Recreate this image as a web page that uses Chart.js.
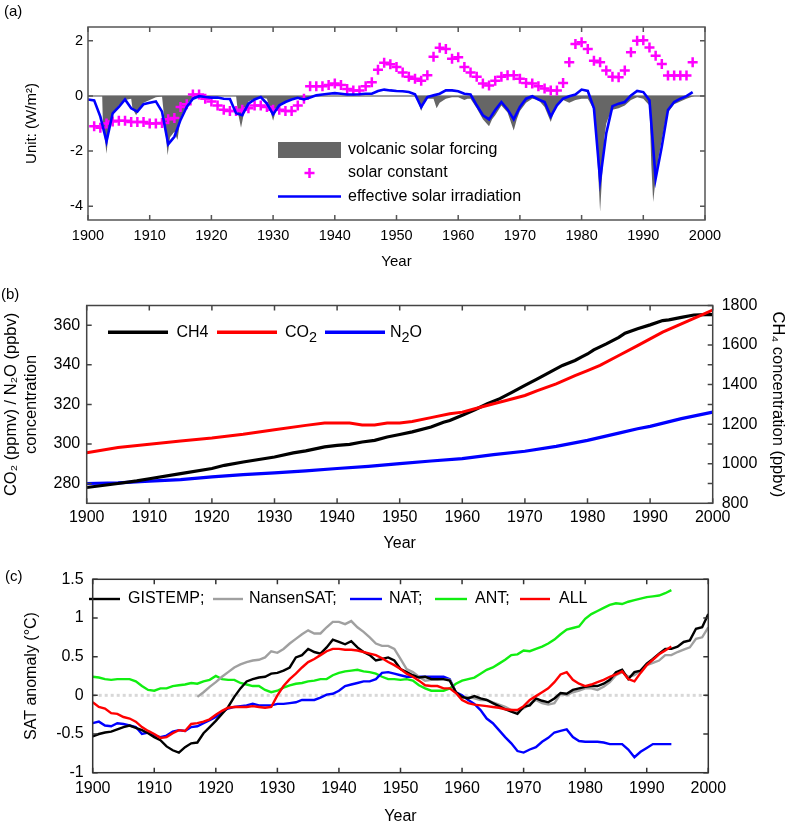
<!DOCTYPE html>
<html>
<head>
<meta charset="utf-8">
<title>Solar forcing, greenhouse gases and SAT anomaly</title>
<script src="https://cdn.jsdelivr.net/npm/chart.js@4.4.1/dist/chart.umd.min.js"></script>
<style>
  html, body { margin: 0; padding: 0; background: #fff; overflow: hidden; }
  #page { position: relative; width: 792px; height: 822px; }
  .panel { position: absolute; left: 0; width: 792px; }
  .tag { position: absolute; font: 15px 'Liberation Sans', Arial, sans-serif; line-height: 1; color: #000; }
</style>
</head>
<body>
<div id="page">
  <div class="panel" style="top:0;height:275px"><canvas id="chartA" width="792" height="275"></canvas></div>
  <div class="panel" style="top:280px;height:275px"><canvas id="chartB" width="792" height="275"></canvas></div>
  <div class="panel" style="top:560px;height:270px"><canvas id="chartC" width="792" height="270"></canvas></div>
  <div class="tag" style="left:4px;top:3px">(a)</div>
  <div class="tag" style="left:1px;top:286px">(b)</div>
  <div class="tag" style="left:5px;top:568px">(c)</div>
</div>
<script>
const FONT = "'Liberation Sans', Arial, Helvetica, sans-serif";

// ---------- shared axis ticks ----------
const yearTicks = [1900, 1910, 1920, 1930, 1940, 1950, 1960, 1970, 1980, 1990, 2000];
const forcingTicks = [-4, -2, 0, 2];
const gasTicks = [280, 300, 320, 340, 360];
const ch4Ticks = [800, 1000, 1200, 1400, 1600, 1800];
const satTicks = [-1, -0.5, 0, 0.5, 1, 1.5];

// ---------- (a) forcing, W/m2 ----------
const SOLAR_START = 1901;
const solarConstant = [
  -1.1, -1.15, -1.0, -0.93, -0.9, -0.9, -0.95, -0.95, -0.95, -1.0,      // 1901-1910
  -1.0, -0.98, -0.85, -0.8, -0.4, -0.3, 0.05, 0.05, -0.1, -0.2,         // 1911-1920
  -0.35, -0.5, -0.55, -0.55, -0.5, -0.45, -0.35, -0.35, -0.4, -0.5,     // 1921-1930
  -0.5, -0.55, -0.55, -0.35, -0.1, 0.35, 0.35, 0.35, 0.4, 0.45,         // 1931-1940
  0.4, 0.25, 0.2, 0.2, 0.35, 0.5, 0.95, 1.2, 1.15, 1.05,                // 1941-1950
  0.85, 0.7, 0.62, 0.55, 0.75, 1.42, 1.75, 1.7, 1.35, 1.4,              // 1951-1960
  1.05, 0.85, 0.7, 0.45, 0.38, 0.55, 0.7, 0.75, 0.75, 0.62,             // 1961-1970
  0.47, 0.45, 0.35, 0.27, 0.2, 0.2, 0.47, 1.22, 1.88, 1.95,             // 1971-1980
  1.7, 1.28, 1.22, 0.92, 0.7, 0.68, 0.92, 1.58, 2.0, 2.02,              // 1981-1990
  1.76, 1.46, 1.16, 0.74, 0.74, 0.74, 0.74, 1.22                        // 1991-1998
];

const EFFECTIVE_START = 1900;
const effectiveSolar = [
  -0.13, -0.16, -0.75, -1.65, -0.63, -0.4, -0.13, -0.45, -0.57, -0.3,   // 1900-1909
  -0.25, -0.2, -0.57, -1.75, -1.48, -0.87, -0.4, -0.1, -0.01, -0.04,    // 1910-1919
  -0.06, -0.06, -0.1, -0.11, -0.63, -0.7, -0.28, -0.13, -0.04, -0.28,   // 1920-1929
  -0.67, -0.34, -0.22, -0.13, -0.07, -0.13, -0.06, 0.02, 0.05, 0.08,    // 1930-1939
  0.1, 0.08, 0.05, 0.05, 0.06, 0.08, 0.08, 0.18, 0.23, 0.2,             // 1940-1949
  0.18, 0.17, 0.14, 0.06, -0.4, -0.04, 0.02, 0.08, 0.2, 0.2,            // 1950-1959
  0.17, 0.08, 0.05, -0.34, -0.7, -0.85, -0.51, -0.22, -0.49, -0.85,     // 1960-1969
  -0.4, -0.1, -0.01, -0.13, -0.22, -0.75, -0.34, -0.1, -0.01, 0.05,     // 1970-1979
  0.23, 0.18, -0.45, -3.05, -1.35, -0.37, -0.28, -0.22, 0.02, 0.18,     // 1980-1989
  0.14, -0.16, -3.0, -1.83, -0.51, -0.22, -0.1, -0.01, 0.14             // 1990-1998
];

const volcanicYears = [
  1900, 1902.3, 1902.4, 1903, 1903.5, 1904, 1905, 1906, 1907, 1907.2, 1907.8, 1908.5, 1909, 1910, 1911, 1912,
  1912.4, 1912.9, 1913.3, 1914, 1914.5, 1915, 1916, 1917, 1918, 1924, 1924.3, 1924.8, 1925.3, 1926, 1927,
  1928, 1929, 1929.5, 1930, 1930.5, 1931, 1932, 1933, 1934, 1935, 1936, 1937, 1953, 1953.5, 1954, 1954.5,
  1955, 1956, 1956.5, 1957, 1958, 1959, 1960, 1961, 1961.5, 1962, 1963, 1964, 1965, 1965.5, 1966, 1967,
  1968, 1969, 1969.5, 1970, 1971, 1972, 1973, 1974, 1975, 1975.5, 1976, 1977, 1978, 1979, 1980, 1981,
  1982, 1982.5, 1983, 1983.3, 1983.7, 1984, 1984.5, 1985, 1986, 1987, 1988, 1989, 1990, 1991, 1991.3,
  1991.6, 1992, 1992.5, 1993, 1993.5, 1994, 1995, 1996, 1997, 1998, 1998.3
];
const volcanicForcing = [
  0, 0, -0.9, -2.1, -1.0, -0.6, -0.35, -0.15, -0.1, -0.45, -0.7, -0.4, -0.25, -0.15, -0.05, -0.02,
  -0.9, -2.15, -1.5, -1.3, -1.6, -0.8, -0.3, -0.05, 0, 0, -0.6, -1.15, -0.6, -0.2, -0.1,
  -0.05, -0.1, -0.5, -0.9, -0.5, -0.35, -0.25, -0.1, -0.05, -0.15, -0.05, 0, 0, -0.2, -0.55, -0.25,
  -0.1, -0.1, -0.45, -0.25, -0.1, -0.05, -0.05, -0.15, -0.1, -0.1, -0.45, -0.85, -1.1, -0.85, -0.7, -0.35,
  -0.6, -1.25, -0.85, -0.55, -0.25, -0.1, -0.15, -0.4, -0.95, -0.6, -0.3, -0.15, -0.25, -0.15, -0.1, -0.1,
  -0.5, -2.0, -4.2, -3.0, -1.5, -1.0, -0.7, -0.5, -0.45, -0.35, -0.15, -0.05, -0.1, -0.35, -2.5,
  -3.85, -3.0, -2.2, -1.6, -1.0, -0.6, -0.3, -0.2, -0.1, -0.02, 0
];

// ---------- (b) greenhouse gas concentrations ----------
const ch4Years = [1900, 1905, 1908, 1910, 1915, 1920, 1922, 1925, 1930, 1933, 1935, 1938, 1940, 1942, 1944, 1946,
  1948, 1950, 1952, 1955, 1957, 1958, 1960, 1962, 1964, 1966, 1968, 1970, 1972, 1974, 1976, 1978, 1979, 1980,
  1981, 1983, 1985, 1986, 1988, 1990, 1992, 1993, 1995, 1997, 1999, 2000];
const ch4Ppbv = [880, 900, 913, 924, 950, 976, 992, 1009, 1034, 1055, 1065, 1085, 1093, 1098, 1110, 1118,
  1135, 1148, 1161, 1186, 1210, 1219, 1245, 1273, 1303, 1329, 1362, 1396, 1429, 1463, 1497, 1522, 1539, 1555,
  1576, 1606, 1639, 1660, 1682, 1702, 1724, 1727, 1740, 1752, 1754, 1754];

const co2Years = [1900, 1905, 1910, 1915, 1920, 1925, 1930, 1935, 1938, 1942, 1944, 1946, 1948, 1950, 1952, 1955,
  1958, 1960, 1962, 1965, 1967, 1970, 1972, 1975, 1978, 1980, 1982, 1985, 1988, 1990, 1992, 1995, 1998, 2000];
const co2Ppmv = [295.6, 298.2, 299.8, 301.5, 303, 304.9, 307.2, 309.4, 310.6, 310.6, 309.6, 309.6, 310.6, 310.6, 311.4, 313.3,
  315.3, 316.1, 317.8, 320.3, 322, 324.5, 327, 330.4, 334.6, 337.1, 339.7, 344.7, 349.7, 353.1, 356.5, 360.7, 364.9, 367.7];

const n2oYears = [1900, 1905, 1910, 1915, 1920, 1925, 1930, 1935, 1940, 1945, 1950, 1955, 1960, 1965, 1970, 1975,
  1980, 1985, 1988, 1990, 1995, 2000];
const n2oPpbv = [280, 280.3, 281.2, 282, 283.4, 284.5, 285.4, 286.4, 287.6, 288.7, 290.1, 291.4, 292.6, 294.6, 296.3, 298.8,
  301.8, 305.5, 307.7, 308.9, 312.8, 316.1];

// ---------- (c) SAT anomaly, deg C ----------
const GISTEMP_START = 1900;
const gistemp = [
  -0.53, -0.5, -0.48, -0.47, -0.44, -0.41, -0.39, -0.42, -0.45, -0.49,   // 1900s
  -0.54, -0.58, -0.66, -0.71, -0.74, -0.67, -0.62, -0.61, -0.49, -0.41,  // 1910s
  -0.33, -0.24, -0.15, -0.02, 0.09, 0.18, 0.21, 0.23, 0.24, 0.28,        // 1920s
  0.29, 0.32, 0.36, 0.49, 0.52, 0.6, 0.56, 0.54, 0.62, 0.72,             // 1930s
  0.69, 0.66, 0.7, 0.62, 0.56, 0.52, 0.45, 0.47, 0.49, 0.45,             // 1940s
  0.34, 0.3, 0.26, 0.23, 0.24, 0.21, 0.21, 0.21, 0.19, 0.04,             // 1950s
  -0.02, -0.04, -0.01, -0.04, -0.06, -0.1, -0.14, -0.18, -0.21, -0.24,   // 1960s
  -0.15, -0.13, -0.04, -0.07, -0.09, -0.04, 0.03, 0.02, 0.07, 0.09,      // 1970s
  0.11, 0.12, 0.12, 0.15, 0.2, 0.3, 0.33, 0.21, 0.3, 0.32,               // 1980s
  0.41, 0.47, 0.54, 0.6, 0.6, 0.63, 0.69, 0.71, 0.86, 0.88,              // 1990s
  1.05
];

const NANSEN_START = 1917;
const nansenSat = [
  -0.02, 0.04, 0.11,                                                     // 1917-1919
  0.17, 0.24, 0.3, 0.36, 0.4, 0.43, 0.45, 0.46, 0.49, 0.57,              // 1920s
  0.55, 0.6, 0.67, 0.73, 0.79, 0.84, 0.8, 0.8, 0.88, 0.95,               // 1930s
  0.95, 0.92, 0.96, 0.88, 0.82, 0.75, 0.67, 0.64, 0.64, 0.6,             // 1940s
  0.47, 0.34, 0.3, 0.24, 0.19, 0.2, 0.2, 0.21, 0.2, 0.04,                // 1950s
  -0.04, -0.02, -0.04, -0.06, -0.06, -0.09, -0.12, -0.15, -0.19, -0.2,   // 1960s
  -0.17, -0.11, -0.06, -0.1, -0.12, -0.1, 0.02, 0, 0.04, 0.06,           // 1970s
  0.09, 0.09, 0.07, 0.11, 0.17, 0.26, 0.3, 0.24, 0.26, 0.32,             // 1980s
  0.39, 0.42, 0.45, 0.52, 0.52, 0.56, 0.59, 0.62, 0.73, 0.75,            // 1990s
  0.88
];

const MODEL_START = 1900;
const natRun = [
  -0.36, -0.34, -0.39, -0.4, -0.36, -0.37, -0.39, -0.41, -0.5, -0.48,   // 1900s
  -0.52, -0.54, -0.52, -0.47, -0.45, -0.46, -0.41, -0.4, -0.36, -0.32,  // 1910s
  -0.28, -0.21, -0.17, -0.15, -0.14, -0.13, -0.11, -0.13, -0.13, -0.13, // 1920s
  -0.11, -0.11, -0.1, -0.09, -0.06, -0.06, -0.06, -0.03, 0.01, 0.02,    // 1930s
  0.06, 0.12, 0.14, 0.16, 0.18, 0.18, 0.21, 0.29, 0.3, 0.28,            // 1940s
  0.26, 0.24, 0.24, 0.24, 0.24, 0.24, 0.24, 0.24, 0.21, 0.04,           // 1950s
  0, -0.06, -0.11, -0.19, -0.3, -0.36, -0.45, -0.54, -0.62, -0.72,      // 1960s
  -0.74, -0.7, -0.67, -0.6, -0.55, -0.48, -0.46, -0.44, -0.54, -0.59,   // 1970s
  -0.6, -0.6, -0.6, -0.61, -0.63, -0.63, -0.63, -0.7, -0.8, -0.73,      // 1980s
  -0.68, -0.63, -0.63, -0.63, -0.63                                     // 1990-1994
];
const antRun = [
  0.24, 0.23, 0.21, 0.2, 0.21, 0.21, 0.21, 0.18, 0.12, 0.07,            // 1900s
  0.06, 0.09, 0.09, 0.12, 0.13, 0.14, 0.16, 0.15, 0.18, 0.2,            // 1910s
  0.25, 0.21, 0.2, 0.2, 0.16, 0.14, 0.12, 0.12, 0.07, 0.04,             // 1920s
  0.06, 0.1, 0.13, 0.15, 0.16, 0.18, 0.19, 0.21, 0.21, 0.26,            // 1930s
  0.29, 0.31, 0.32, 0.33, 0.31, 0.3, 0.28, 0.24, 0.21, 0.21,            // 1940s
  0.2, 0.21, 0.19, 0.13, 0.09, 0.06, 0.06, 0.06, 0.09, 0.15,            // 1950s
  0.19, 0.21, 0.23, 0.28, 0.33, 0.36, 0.41, 0.46, 0.52, 0.53,           // 1960s
  0.58, 0.57, 0.6, 0.63, 0.67, 0.72, 0.79, 0.85, 0.87, 0.89,            // 1970s
  0.99, 1.05, 1.09, 1.13, 1.17, 1.19, 1.18, 1.21, 1.23, 1.25,           // 1980s
  1.27, 1.28, 1.29, 1.32, 1.36                                          // 1990-1994
];
const allRun = [
  -0.09, -0.15, -0.17, -0.23, -0.24, -0.28, -0.3, -0.34, -0.41, -0.46,  // 1900s
  -0.5, -0.55, -0.54, -0.49, -0.45, -0.46, -0.37, -0.36, -0.34, -0.31,  // 1910s
  -0.25, -0.2, -0.16, -0.15, -0.15, -0.15, -0.14, -0.15, -0.16, -0.15,  // 1920s
  0, 0.12, 0.21, 0.28, 0.36, 0.43, 0.47, 0.52, 0.57, 0.6,               // 1930s
  0.6, 0.59, 0.59, 0.58, 0.56, 0.54, 0.52, 0.48, 0.43, 0.39,            // 1940s
  0.34, 0.28, 0.24, 0.19, 0.13, 0.12, 0.12, 0.09, 0.09, 0.03,           // 1950s
  -0.06, -0.1, -0.12, -0.13, -0.14, -0.15, -0.16, -0.18, -0.19, -0.19,  // 1960s
  -0.14, -0.06, -0.01, 0.04, 0.09, 0.17, 0.27, 0.3, 0.2, 0.15,          // 1970s
  0.12, 0.14, 0.17, 0.2, 0.24, 0.27, 0.31, 0.21, 0.18, 0.29,            // 1980s
  0.39, 0.46, 0.53, 0.58, 0.63                                          // 1990-1994
];

// ---------- helpers ----------
const annual = (start, values) => values.map((y, i) => ({ x: start + i, y }));
const paired = (xs, ys) => xs.map((x, i) => ({ x, y: ys[i] }));
const fixTicks = list => scale => { scale.ticks = list.map(v => ({ value: v })); };

Chart.defaults.font.family = FONT;
Chart.defaults.color = '#000';

// box with inward tick marks on all four sides
const framePlugin = {
  id: 'frame',
  afterDraw(chart, args, opts) {
    const { ctx, chartArea: a, scales } = chart;
    const len = opts.tickLength || 6;
    ctx.save();
    ctx.strokeStyle = opts.color || '#444';
    ctx.lineWidth = opts.width || 1.5;
    ctx.beginPath();
    scales.x.ticks.forEach(t => {
      const px = scales.x.getPixelForValue(t.value);
      ctx.moveTo(px, a.bottom); ctx.lineTo(px, a.bottom - len);
      ctx.moveTo(px, a.top); ctx.lineTo(px, a.top + len);
    });
    scales.y.ticks.forEach(t => {
      const py = scales.y.getPixelForValue(t.value);
      ctx.moveTo(a.left, py); ctx.lineTo(a.left + len, py);
      ctx.moveTo(a.right, py); ctx.lineTo(a.right - len, py);
    });
    if (scales.y2) {
      scales.y2.ticks.forEach(t => {
        const py = scales.y2.getPixelForValue(t.value);
        ctx.moveTo(a.right, py); ctx.lineTo(a.right - len, py);
      });
    }
    ctx.stroke();
    ctx.strokeRect(a.left, a.top, a.right - a.left, a.bottom - a.top);
    ctx.restore();
  }
};

// horizontal reference line at y = 0
const zeroLinePlugin = {
  id: 'zeroLine',
  beforeDatasetsDraw(chart, args, opts) {
    if (!opts.color) return;
    const { ctx, chartArea: a, scales } = chart;
    const py = scales.y.getPixelForValue(0);
    ctx.save();
    ctx.strokeStyle = opts.color;
    ctx.lineWidth = opts.width;
    ctx.setLineDash(opts.dash || []);
    ctx.beginPath();
    ctx.moveTo(a.left, py);
    ctx.lineTo(a.right, py);
    ctx.stroke();
    ctx.restore();
  }
};

// legend drawn inside the plot; text parts may carry subscripts
const keyPlugin = {
  id: 'key',
  afterDatasetsDraw(chart, args, opts) {
    const ctx = chart.ctx;
    const size = opts.size || 16;
    ctx.save();
    ctx.textBaseline = 'middle';
    opts.items.forEach(it => {
      const ds = chart.data.datasets[it.ds];
      const color = it.kind === 'box' ? ds.backgroundColor : ds.borderColor;
      if (it.kind === 'box') {
        ctx.fillStyle = color;
        ctx.fillRect(it.x0, it.y - it.h / 2, it.x1 - it.x0, it.h);
      } else if (it.kind === 'cross') {
        const cx = (it.x0 + it.x1) / 2, r = it.r;
        ctx.strokeStyle = color;
        ctx.lineWidth = ds.borderWidth;
        ctx.beginPath();
        ctx.moveTo(cx - r, it.y); ctx.lineTo(cx + r, it.y);
        ctx.moveTo(cx, it.y - r); ctx.lineTo(cx, it.y + r);
        ctx.stroke();
      } else {
        ctx.strokeStyle = color;
        ctx.lineWidth = it.lw || ds.borderWidth;
        ctx.beginPath();
        ctx.moveTo(it.x0, it.y); ctx.lineTo(it.x1, it.y);
        ctx.stroke();
      }
      let tx = it.tx;
      ctx.fillStyle = '#000';
      it.text.forEach(part => {
        const sub = Array.isArray(part);
        const str = sub ? part[0] : part;
        ctx.font = `${sub ? size * 0.9 : size}px ${FONT}`;
        ctx.fillText(str, tx, it.y + (sub ? size * 0.33 : 0));
        tx += ctx.measureText(str).width;
      });
    });
    ctx.restore();
  }
};

const plugins = [zeroLinePlugin, keyPlugin, framePlugin];

function xAxis(fontSize, pad, height, titleSize, titleBottom) {
  return {
    type: 'linear', min: 1900, max: 2000,
    afterBuildTicks: fixTicks(yearTicks),
    afterFit: s => { s.height = height; },
    grid: { display: false, drawTicks: false },
    border: { display: false },
    ticks: { padding: pad, font: { size: fontSize }, autoSkip: false, maxRotation: 0, callback: v => String(v) },
    title: { display: true, text: 'Year', font: { size: titleSize }, padding: { top: 0, bottom: titleBottom } }
  };
}

function yAxis(opts) {
  return {
    type: 'linear', position: opts.position || 'left', min: opts.min, max: opts.max,
    afterBuildTicks: fixTicks(opts.ticks),
    afterFit: s => { s.width = opts.width; },
    grid: { display: false, drawTicks: false },
    border: { display: false },
    ticks: { padding: opts.pad, font: { size: opts.fontSize }, callback: v => String(v) },
    title: { display: true, text: opts.title, font: { size: opts.titleSize, lineHeight: 1.2 }, padding: { top: opts.titlePad, bottom: 0 } }
  };
}

// ---------- (a) ----------
new Chart(document.getElementById('chartA'), {
  type: 'line',
  data: {
    datasets: [
      {
        label: 'effective solar irradiation',
        data: annual(EFFECTIVE_START, effectiveSolar),
        borderColor: '#0000ff', borderWidth: 2.6, pointRadius: 0, fill: false, order: 0
      },
      {
        label: 'solar constant',
        data: annual(SOLAR_START, solarConstant),
        showLine: false, pointStyle: 'cross', pointRadius: 5,
        borderColor: '#ff00ff', backgroundColor: '#ff00ff', borderWidth: 2.5, order: 1
      },
      {
        label: 'volcanic solar forcing',
        data: paired(volcanicYears, volcanicForcing),
        borderColor: 'rgba(0,0,0,0)', borderWidth: 0, backgroundColor: '#666666',
        pointRadius: 0, fill: 'origin', order: 2
      }
    ]
  },
  options: {
    responsive: false, animation: false,
    layout: { padding: { left: 0, right: 87, top: 27, bottom: 0 } },
    scales: {
      x: xAxis(14.5, 7, 55, 15, 4),
      y: yAxis({ min: -4.5, max: 2.5, ticks: forcingTicks, width: 88, pad: 5, fontSize: 14.5,
                 title: 'Unit: (W/m²)', titleSize: 15, titlePad: 23 })
    },
    plugins: {
      legend: { display: false }, tooltip: { enabled: false },
      zeroLine: { color: '#a0a0a0', width: 2 },
      frame: { color: '#555', width: 1.5, tickLength: 5 },
      key: {
        size: 16,
        items: [
          { ds: 2, kind: 'box', x0: 278, x1: 341, y: 150, h: 16, tx: 348, text: ['volcanic solar forcing'] },
          { ds: 1, kind: 'cross', x0: 278, x1: 341, y: 173, r: 5, tx: 348, text: ['solar constant'] },
          { ds: 0, kind: 'line', x0: 278, x1: 341, y: 196.5, tx: 348, text: ['effective solar irradiation'] }
        ]
      }
    }
  },
  plugins
});

// ---------- (b) ----------
new Chart(document.getElementById('chartB'), {
  type: 'line',
  data: {
    datasets: [
      { label: 'CO2', data: paired(co2Years, co2Ppmv), yAxisID: 'y',
        borderColor: '#ff0000', borderWidth: 3, pointRadius: 0, order: 0 },
      { label: 'CH4', data: paired(ch4Years, ch4Ppbv), yAxisID: 'y2',
        borderColor: '#000000', borderWidth: 3.2, pointRadius: 0, order: 1 },
      { label: 'N2O', data: paired(n2oYears, n2oPpbv), yAxisID: 'y',
        borderColor: '#0000ff', borderWidth: 3.2, pointRadius: 0, order: 2 }
    ]
  },
  options: {
    responsive: false, animation: false,
    layout: { padding: { left: 0, right: 0, top: 25.5, bottom: 0 } },
    scales: {
      x: xAxis(16, 5, 51.7, 16, 2),
      y: yAxis({ min: 270, max: 370, ticks: gasTicks, width: 86.7, pad: 6.5, fontSize: 16,
                 title: ['CO₂ (ppmv) / N₂O (ppbv)', 'concentration'], titleSize: 16.5, titlePad: 1.8 }),
      y2: yAxis({ position: 'right', min: 800, max: 1800, ticks: ch4Ticks, width: 79.3, pad: 9, fontSize: 16,
                  title: 'CH₄ concentration (ppbv)', titleSize: 16.5, titlePad: 4.1 })
    },
    plugins: {
      legend: { display: false }, tooltip: { enabled: false },
      zeroLine: {},
      frame: { color: '#444', width: 1.5, tickLength: 5 },
      key: {
        size: 16,
        items: [
          { ds: 1, kind: 'line', x0: 108, x1: 168, y: 52.3, lw: 3.6, tx: 176.5, text: ['CH4'] },
          { ds: 0, kind: 'line', x0: 217, x1: 277, y: 52.3, lw: 3.6, tx: 285, text: ['CO', ['2']] },
          { ds: 2, kind: 'line', x0: 325, x1: 385, y: 52.3, lw: 3.6, tx: 390, text: ['N', ['2'], 'O'] }
        ]
      }
    }
  },
  plugins
});

// ---------- (c) ----------
new Chart(document.getElementById('chartC'), {
  type: 'line',
  data: {
    datasets: [
      { label: 'ALL', data: annual(MODEL_START, allRun),
        borderColor: '#ff0000', borderWidth: 2.4, pointRadius: 0, order: 0 },
      { label: 'GISTEMP', data: annual(GISTEMP_START, gistemp),
        borderColor: '#000000', borderWidth: 2.4, pointRadius: 0, order: 1 },
      { label: 'NansenSAT', data: annual(NANSEN_START, nansenSat),
        borderColor: '#a0a0a0', borderWidth: 2.4, pointRadius: 0, order: 2 },
      { label: 'NAT', data: annual(MODEL_START, natRun),
        borderColor: '#0000ff', borderWidth: 2.4, pointRadius: 0, order: 3 },
      { label: 'ANT', data: annual(MODEL_START, antRun),
        borderColor: '#11ee11', borderWidth: 2.4, pointRadius: 0, order: 4 }
    ]
  },
  options: {
    responsive: false, animation: false,
    layout: { padding: { left: 0, right: 83.7, top: 19.3, bottom: 0 } },
    scales: {
      x: xAxis(16, 6, 57.3, 16, 3.7),
      y: yAxis({ min: -1, max: 1.5, ticks: satTicks, width: 92.7, pad: 9, fontSize: 16,
                 title: 'SAT anomaly (°C)', titleSize: 16, titlePad: 22.4 })
    },
    plugins: {
      legend: { display: false }, tooltip: { enabled: false },
      zeroLine: { color: '#d8d8d8', width: 3, dash: [3, 3] },
      frame: { color: '#333', width: 1.5, tickLength: 5 },
      key: {
        size: 16,
        items: [
          { ds: 1, kind: 'line', x0: 89, x1: 120, y: 39, tx: 128, text: ['GISTEMP;'] },
          { ds: 2, kind: 'line', x0: 213, x1: 243, y: 39, tx: 249, text: ['NansenSAT;'] },
          { ds: 3, kind: 'line', x0: 350, x1: 382, y: 39, tx: 389, text: ['NAT;'] },
          { ds: 4, kind: 'line', x0: 435, x1: 467, y: 39, tx: 475, text: ['ANT;'] },
          { ds: 0, kind: 'line', x0: 520, x1: 550, y: 39, tx: 559, text: ['ALL'] }
        ]
      }
    }
  },
  plugins
});
</script>
</body>
</html>
